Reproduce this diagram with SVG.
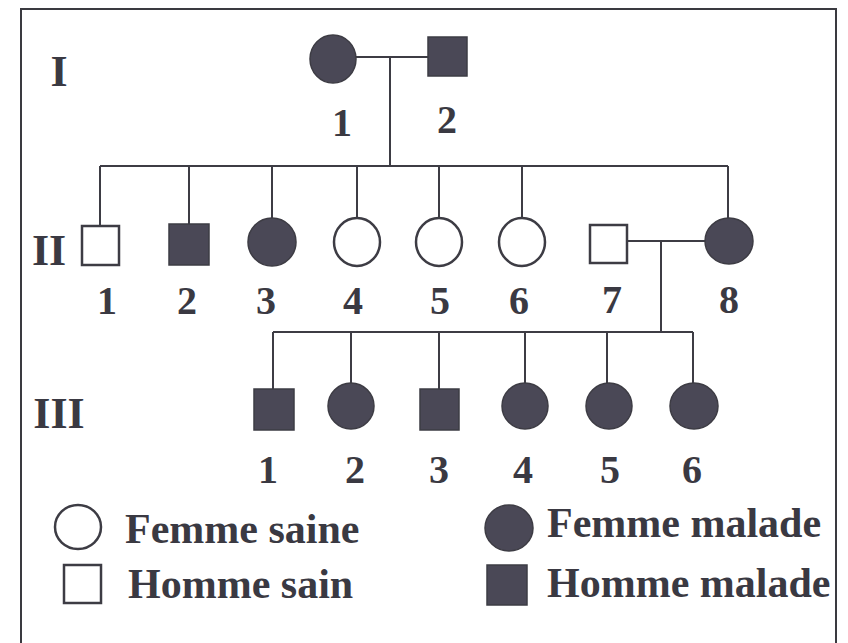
<svg xmlns="http://www.w3.org/2000/svg" width="848" height="643" viewBox="0 0 848 643">
<style>
.bg{fill:#ffffff}
.frame{fill:none;stroke:#3a3a40;stroke-width:2}
.ln{fill:none;stroke:#3d3c44;stroke-width:2}
.sick{fill:#4a4856;stroke:#3d3c44;stroke-width:1.5}
.well{fill:#ffffff;stroke:#3d3c44;stroke-width:2.5}
.num{font-family:"Liberation Serif","Times New Roman",serif;font-weight:bold;font-size:40px;fill:#3a3942;text-anchor:middle}
.gen{font-family:"Liberation Serif","Times New Roman",serif;font-weight:bold;font-size:44px;fill:#3a3942;text-anchor:middle}
.leg{font-family:"Liberation Serif","Times New Roman",serif;font-weight:bold;font-size:42px;fill:#3a3942}
</style>
<rect class="bg" x="0" y="0" width="848" height="643"/>
<rect class="frame" x="21" y="9" width="815" height="660"/>
<g id="generation-labels">
<text class="gen" x="59" y="86">I</text>
<text class="gen" x="49" y="265">II</text>
<text class="gen" x="59" y="428">III</text>
</g>
<g id="connectors">
<line class="ln" x1="356" y1="57" x2="428" y2="57"/>
<line class="ln" x1="390" y1="57" x2="390" y2="166"/>
<line class="ln" x1="100" y1="166" x2="728" y2="166"/>
<line class="ln" x1="100" y1="166" x2="100" y2="226"/>
<line class="ln" x1="189" y1="166" x2="189" y2="224"/>
<line class="ln" x1="272" y1="166" x2="272" y2="218"/>
<line class="ln" x1="357" y1="166" x2="357" y2="218"/>
<line class="ln" x1="439" y1="166" x2="439" y2="218"/>
<line class="ln" x1="522" y1="166" x2="522" y2="218"/>
<line class="ln" x1="728" y1="166" x2="728" y2="218"/>
<line class="ln" x1="627" y1="241" x2="705" y2="241"/>
<line class="ln" x1="661" y1="241" x2="661" y2="332"/>
<line class="ln" x1="273" y1="332" x2="693" y2="332"/>
<line class="ln" x1="273" y1="332" x2="273" y2="389"/>
<line class="ln" x1="351" y1="332" x2="351" y2="383"/>
<line class="ln" x1="439" y1="332" x2="439" y2="389"/>
<line class="ln" x1="525" y1="332" x2="525" y2="383"/>
<line class="ln" x1="607" y1="332" x2="607" y2="383"/>
<line class="ln" x1="693" y1="332" x2="693" y2="383"/>
</g>
<g id="I-1"><ellipse class="sick" cx="333" cy="59" rx="23" ry="24"/><text class="num" x="342" y="136">1</text></g>
<g id="I-2"><rect class="sick" x="428" y="37" width="39" height="39"/><text class="num" x="447" y="133">2</text></g>
<g id="II-1"><rect class="well" x="82" y="226" width="37" height="39"/><text class="num" x="107" y="314">1</text></g>
<g id="II-2"><rect class="sick" x="169" y="224" width="40" height="41"/><text class="num" x="187" y="314">2</text></g>
<g id="II-3"><ellipse class="sick" cx="272" cy="242" rx="24" ry="24"/><text class="num" x="266" y="314">3</text></g>
<g id="II-4"><ellipse class="well" cx="357" cy="242" rx="23" ry="24"/><text class="num" x="353" y="314">4</text></g>
<g id="II-5"><ellipse class="well" cx="439" cy="242" rx="23" ry="24"/><text class="num" x="440" y="314">5</text></g>
<g id="II-6"><ellipse class="well" cx="522" cy="242" rx="23" ry="24"/><text class="num" x="519" y="314">6</text></g>
<g id="II-7"><rect class="well" x="590" y="225" width="37" height="38"/><text class="num" x="612" y="313">7</text></g>
<g id="II-8"><ellipse class="sick" cx="729" cy="241" rx="24" ry="23"/><text class="num" x="729" y="313">8</text></g>
<g id="III-1"><rect class="sick" x="254" y="389" width="40" height="41"/><text class="num" x="268" y="483">1</text></g>
<g id="III-2"><ellipse class="sick" cx="351" cy="406" rx="23" ry="23"/><text class="num" x="355" y="483">2</text></g>
<g id="III-3"><rect class="sick" x="420" y="389" width="39" height="41"/><text class="num" x="439" y="483">3</text></g>
<g id="III-4"><ellipse class="sick" cx="525" cy="406" rx="23" ry="23"/><text class="num" x="523" y="483">4</text></g>
<g id="III-5"><ellipse class="sick" cx="609" cy="406" rx="23" ry="23"/><text class="num" x="610" y="483">5</text></g>
<g id="III-6"><ellipse class="sick" cx="694" cy="406" rx="24" ry="23"/><text class="num" x="692" y="483">6</text></g>
<g id="legend">
<ellipse class="well" cx="78" cy="527" rx="23" ry="22"/>
<text class="leg" x="125" y="543">Femme saine</text>
<rect class="well" x="64" y="565" width="37" height="38"/>
<text class="leg" x="128" y="598">Homme sain</text>
<ellipse class="sick" cx="509" cy="528" rx="24" ry="23"/>
<text class="leg" x="547" y="537">Femme malade</text>
<rect class="sick" x="487" y="565" width="40" height="40"/>
<text class="leg" x="547" y="597">Homme malade</text>
</g>
</svg>
